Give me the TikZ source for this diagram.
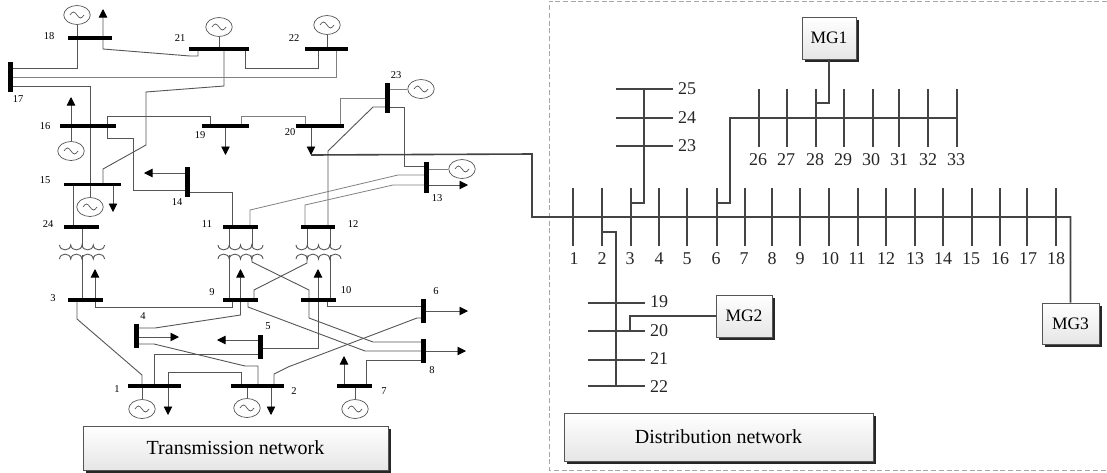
\documentclass[tikz,border=0pt]{standalone}
\usepackage{fontspec}
\setmainfont{Liberation Serif}
\usetikzlibrary{arrows.meta,shapes.geometric,shadows,backgrounds}
\definecolor{linegray}{HTML}{555555}
\definecolor{feedgray}{HTML}{444444}
\tikzset{
  hbus/.style={fill=black, inner sep=0, outer sep=0, minimum height=3.5},
  vbus/.style={fill=black, inner sep=0, outer sep=0, minimum width=5},
  gen/.style={ellipse, draw=linegray, line width=0.7, inner sep=0, minimum width=26.5, minimum height=19,
    path picture={\draw [draw=linegray, line width=0.7, rotate=#1] (path picture bounding box.center) ++(-7,0) sin ++(3.5,-3) cos ++(3.5,3) sin ++(3.5,3) cos ++(3.5,-3);}},
  gen/.default=0,
  tline/.style={draw=linegray, line width=0.9},
  tthin/.style={draw=gray, line width=0.8},
  load/.style={tline, -{Triangle[length=8.5pt,width=8.5pt,black]}},
  blab/.style={font=\fontsize{10.5}{12}\selectfont, text=black},
  dlab/.style={font=\fontsize{18}{20}\selectfont, text=black!85},
  dbar/.style={fill=feedgray, inner sep=0, outer sep=0, minimum width=1.8, minimum height=58},
  dhbar/.style={fill=feedgray, inner sep=0, outer sep=0, minimum height=1.8, minimum width=57},
  feeder/.style={draw=feedgray, line width=1.6},
  mgbox/.style={draw=linegray, line width=0.8, top color=white, bottom color=black!10,
    drop shadow={shadow xshift=3pt, shadow yshift=-3pt, fill=black!85, opacity=1}},
  frame/.style={draw=black!35, line width=1, dash pattern=on 5pt off 2.7pt},
  xfmr/.pic={
    \draw [tline] (-22.5,-7) .. controls +(0.5,6.5) and +(-0.5,6.5) .. ++(11.25,0) .. controls +(0.5,6.5) and +(-0.5,6.5) .. ++(11.25,0) .. controls +(0.5,6.5) and +(-0.5,6.5) .. ++(11.25,0) .. controls +(0.5,6.5) and +(-0.5,6.5) .. ++(11.25,0);
    \draw [tline] (-22.5,7) .. controls +(0.5,-6.5) and +(-0.5,-6.5) .. ++(11.25,0) .. controls +(0.5,-6.5) and +(-0.5,-6.5) .. ++(11.25,0) .. controls +(0.5,-6.5) and +(-0.5,-6.5) .. ++(11.25,0) .. controls +(0.5,-6.5) and +(-0.5,-6.5) .. ++(11.25,0);
    \coordinate (-tl) at (-11.5,-6);
    \coordinate (-tc) at (0,-6);
    \coordinate (-tr) at (11.5,-6);
    \coordinate (-bl) at (-11.5,3);
    \coordinate (-bc) at (0,3);
    \coordinate (-br) at (11.5,3);
  },
}
\begin{document}
\begin{tikzpicture}[x=1pt, y=-1pt]

    \useasboundingbox (0,0) rectangle (1107,472);
    \draw [frame] (1107,1) -- (549,1) -- (549,470) -- (1107,470);

    \node [hbus, minimum width=44] (b18) at (90,38) {};
    \node [hbus, minimum width=60] (b21) at (219,49) {};
    \node [hbus, minimum width=43] (b22) at (326.5,49) {};
    \node [vbus, minimum height=30] (b17) at (10.5,77) {};
    \node [hbus, minimum width=56] (b16) at (88,126) {};
    \node [hbus, minimum width=47] (b19) at (225.5,126) {};
    \node [hbus, minimum width=48] (b20) at (320,126) {};
    \node [vbus, minimum height=30] (b23) at (387,98) {};
    \node [hbus, minimum width=57, minimum height=3] (b15) at (92.5,184) {};
    \node [vbus, minimum height=30] (b14) at (187,182) {};
    \node [vbus, minimum height=31] (b13) at (426,177.5) {};
    \node [hbus, minimum width=35] (b24) at (81.5,227) {};
    \node [hbus, minimum width=35] (b11) at (240.5,227) {};
    \node [hbus, minimum width=34] (b12) at (318,227) {};
    \node [hbus, minimum width=35] (b3) at (85.5,300) {};
    \node [hbus, minimum width=35] (b9) at (240.5,300) {};
    \node [hbus, minimum width=35] (b10) at (318.5,300) {};
    \node [vbus, minimum height=24] (b4) at (136,336) {};
    \node [vbus, minimum height=24] (b5) at (260,347) {};
    \node [vbus, minimum height=24] (b6) at (423,311) {};
    \node [vbus, minimum height=24] (b8) at (423,351) {};
    \node [hbus, minimum width=53] (b1) at (154.5,386) {};
    \node [hbus, minimum width=53] (b2) at (257.5,386) {};
    \node [hbus, minimum width=35] (b7) at (354.5,386) {};

    \node [gen] (g18) at (77,15) {};
    \node [gen] (g21) at (219,27) {};
    \node [gen] (g22) at (327,25) {};
    \node [gen] (g16) at (71,151) {};
    \node [gen] (g15) at (90,207) {};
    \node [gen=90] (g23) at (421,89) {};
    \node [gen=90] (g13) at (462,169) {};
    \node [gen] (g1) at (142,409) {};
    \node [gen] (g2) at (247,408) {};
    \node [gen] (g7) at (355,409) {};

    \pic (x24) at (82,252) {xfmr};
    \pic (x11) at (240.5,252) {xfmr};
    \pic (x12) at (318.5,252) {xfmr};

    \coordinate (t18) at (103,9);
    \coordinate (t16) at (71,97);
    \coordinate (t19) at (225.5,155);
    \coordinate (t20) at (311,155);
    \coordinate (t15) at (113,212);
    \coordinate (t14) at (144,173);
    \coordinate (t13) at (468,185);
    \coordinate (t3) at (95,269);
    \coordinate (t9) at (240.5,269);
    \coordinate (t10) at (318,269);
    \coordinate (t4) at (179,337);
    \coordinate (t5) at (217,340);
    \coordinate (t6) at (468,311);
    \coordinate (t8) at (466,351);
    \coordinate (t7) at (344,356);
    \coordinate (t1) at (168,415);
    \coordinate (t2) at (271,415);

    \node [blab] (n18) at (49,36) {18};
    \node [blab] (n21) at (180,38) {21};
    \node [blab] (n22) at (294,38) {22};
    \node [blab] (n17) at (18,99) {17};
    \node [blab] (n16) at (45,126) {16};
    \node [blab] (n19) at (200,135) {19};
    \node [blab] (n20) at (290,132) {20};
    \node [blab] (n23) at (396,75) {23};
    \node [blab] (n15) at (45,180) {15};
    \node [blab] (n14) at (177,202) {14};
    \node [blab] (n13) at (437,198) {13};
    \node [blab] (n24) at (48,224) {24};
    \node [blab] (n11) at (207,224) {11};
    \node [blab] (n12) at (353,224) {12};
    \node [blab] (n3) at (53,298) {3};
    \node [blab] (n9) at (212,292) {9};
    \node [blab] (n10) at (346,290) {10};
    \node [blab] (n4) at (143,316) {4};
    \node [blab] (n5) at (268,326) {5};
    \node [blab] (n6) at (436,291) {6};
    \node [blab] (n8) at (432,370) {8};
    \node [blab] (n1) at (117,389) {1};
    \node [blab] (n2) at (294,391) {2};
    \node [blab] (n7) at (384,391) {7};

    \begin{scope}[on background layer]
    \draw [tline] (g18) -- (g18 |- 0,68) -- (b17 |- 0,68);
    \draw [tline] (g21) -- (g21 |- b21);
    \draw [tline] (g22) -- (g22 |- b22);
    \draw [load] (198,0 |- b21) -- (198,56) -- (190,56) -- (103,49) -- (t18);
    \draw [tline] (224,0 |- b21) -- (224,86) -- (146,92) -- (146,145) -- (103,169) -- (103,0 |- b15);
    \draw [tline] (245,0 |- b21) -- (245,68) -- (318,68) -- (318,0 |- b22);
    \draw [tthin] (b17 |- 0,77) -- (336,77) -- (336,0 |- b22);
    \draw [tline] (b17 |- 0,86) -- (90,86) -- (g15);
    \draw [load] (g16) -- (t16);
    \draw [tline] (107,0 |- b16) -- (107,116) -- (210,116) -- (210,0 |- b19);
    \draw [tline] (107,0 |- b16) -- (107,138) -- (133,138) -- (133,190) -- (b14 |- 0,190);
    \draw [load] (b14 |- t14) -- (t14);
    \draw [tline] (b14 |- 0,192) -- (232,192) -- (232,0 |- b11);
    \draw [tthin] (241,0 |- b19) -- (241,116) -- (305,116) -- (305,0 |- b20);
    \draw [load] (t19 |- b19) -- (t19);
    \draw [load] (t20 |- b20) -- (t20);
    \draw [tthin] (340,0 |- b20) -- (340,98) -- (b23 |- 0,98);
    \draw [tthin] (g23) -- (b23 |- g23);
    \draw [tline] (b23 |- 0,107) -- (373,107) -- (328,151) -- (328,0 |- b12);
    \draw [tline] (b23 |- 0,107) -- (404,107) -- (404,166) -- (b13 |- 0,166);
    \draw [tthin] (g13) -- (b13 |- g13);
    \draw [load] (b13 |- t13) -- (t13);
    \draw [tthin] (b13 |- 0,175) -- (398,175) -- (250,210) -- (250,0 |- b11);
    \draw [tthin] (b13 |- 0,185) -- (393,185) -- (305,205) -- (305,0 |- b12);
    \draw [tline] (73,0 |- b15) -- (73,0 |- b24);
    \draw [load] (t15 |- b15) -- (t15);
    \draw [tline] (82,0 |- b24) -- (x24-tc);
    \draw [tline] (x24-bc) -- (82,0 |- b3);
    \draw [tline] (229,0 |- b11) -- (x11-tl);
    \draw [tline] (252,0 |- b11) -- (x11-tr);
    \draw [tline] (307,0 |- b12) -- (x12-tl);
    \draw [tline] (330,0 |- b12) -- (x12-tr);
    \draw [tline] (x11-bl) -- (x11-bl |- b9);
    \draw [load] (232,0 |- b9) -- (232,307) -- (95,307) -- (t3);
    \draw [load] (b4 |- 0,328) -- (155,328) -- (240.5,315) -- (t9);
    \draw [load] (b4 |- t4) -- (t4);
    \draw [tline] (b4 |- 0,344) -- (154,344) -- (245,366) -- (258,366) -- (258,0 |- b2);
    \draw [tline] (77,0 |- b3) -- (77,319) -- (142,375) -- (142,0 |- b1);
    \draw [tline] (g1) -- (g1 |- b1);
    \draw [load] (241,0 |- b2) -- (241,372) -- (168,372) -- (t1);
    \draw [tline] (154,0 |- b1) -- (154,354) -- (b5 |- 0,354);
    \draw [load] (b5 |- t5) -- (t5);
    \draw [load] (b5 |- 0,348) -- (318,348) -- (t10);
    \draw [tline] (327,0 |- b10) -- (327,306) -- (b6 |- 0,306);
    \draw [load] (b6 |- t6) -- (t6);
    \draw [tline] (b6 |- 0,318) -- (417,318) -- (288,367) -- (274,374) -- (274,0 |- b2);
    \draw [tline] (309,0 |- b10) -- (309,318) -- (373,342) -- (b8 |- 0,342);
    \draw [tline] (x11-br) -- (252,262) -- (309,290) -- (309,0 |- b10);
    \draw [tline] (x12-bl) -- (307,263) -- (254,290) -- (254,0 |- b9);
    \draw [tline] (x12-br) -- (x12-br |- b10);
    \draw [tline] (248,0 |- b9) -- (248,307) -- (365,351) -- (b8 |- t8);
    \draw [load] (b8 |- t8) -- (t8);
    \draw [tline] (b8 |- 0,360) -- (366,360) -- (366,0 |- b7);
    \draw [load] (t7 |- b7) -- (t7);
    \draw [tline] (g2) -- (g2 |- b2);
    \draw [load] (t2 |- b2) -- (t2);
    \draw [tline] (g7) -- (g7 |- b7);
    \end{scope}

    \node [dbar] (d1) at (573,217) {};    \node [dlab] (l1) at (574,259) {1};
    \node [dbar] (d2) at (602,217) {};    \node [dlab] (l2) at (602,259) {2};
    \node [dbar] (d3) at (631,217) {};    \node [dlab] (l3) at (630,259) {3};
    \node [dbar] (d4) at (659,217) {};    \node [dlab] (l4) at (659,259) {4};
    \node [dbar] (d5) at (687,217) {};    \node [dlab] (l5) at (687,259) {5};
    \node [dbar] (d6) at (717,217) {};    \node [dlab] (l6) at (716,259) {6};
    \node [dbar] (d7) at (745,217) {};    \node [dlab] (l7) at (744,259) {7};
    \node [dbar] (d8) at (772,217) {};    \node [dlab] (l8) at (772,259) {8};
    \node [dbar] (d9) at (800,217) {};    \node [dlab] (l9) at (800,259) {9};
    \node [dbar] (d10) at (829,217) {};   \node [dlab] (l10) at (830,259) {10};
    \node [dbar] (d11) at (858,217) {};   \node [dlab] (l11) at (857,259) {11};
    \node [dbar] (d12) at (886,217) {};   \node [dlab] (l12) at (886,259) {12};
    \node [dbar] (d13) at (915,217) {};   \node [dlab] (l13) at (915,259) {13};
    \node [dbar] (d14) at (943,217) {};   \node [dlab] (l14) at (943,259) {14};
    \node [dbar] (d15) at (972,217) {};   \node [dlab] (l15) at (971,259) {15};
    \node [dbar] (d16) at (1000,217) {};  \node [dlab] (l16) at (1000,259) {16};
    \node [dbar] (d17) at (1027,217) {};  \node [dlab] (l17) at (1028,259) {17};
    \node [dbar] (d18) at (1056,217) {};  \node [dlab] (l18) at (1056,259) {18};

    \node [dbar] (d26) at (759,118) {};   \node [dlab] (l26) at (758,160) {26};
    \node [dbar] (d27) at (787,118) {};   \node [dlab] (l27) at (786,160) {27};
    \node [dbar] (d28) at (816,118) {};   \node [dlab] (l28) at (815,160) {28};
    \node [dbar] (d29) at (844,118) {};   \node [dlab] (l29) at (843,160) {29};
    \node [dbar] (d30) at (873,118) {};   \node [dlab] (l30) at (871,160) {30};
    \node [dbar] (d31) at (899,118) {};   \node [dlab] (l31) at (899,160) {31};
    \node [dbar] (d32) at (928,118) {};   \node [dlab] (l32) at (928,160) {32};
    \node [dbar] (d33) at (957,118) {};   \node [dlab] (l33) at (956,160) {33};

    \node [dhbar] (d25) at (644,89) {};   \node [dlab] (l25) at (687,89) {25};
    \node [dhbar] (d24) at (644,118) {};  \node [dlab] (l24) at (687,118) {24};
    \node [dhbar] (d23) at (644,146) {};  \node [dlab] (l23) at (687,146) {23};

    \node [dhbar] (d19) at (616,303) {};  \node [dlab] (l19) at (659,302) {19};
    \node [dhbar] (d20) at (616,331) {};  \node [dlab] (l20) at (659,331) {20};
    \node [dhbar] (d21) at (616,360) {};  \node [dlab] (l21) at (659,359) {21};
    \node [dhbar] (d22) at (616,386) {};  \node [dlab] (l22) at (659,387) {22};

    \node [mgbox, minimum width=54, minimum height=42, font=\fontsize{17.5}{20}\selectfont] (mg1) at (829,38) {MG1};
    \node [mgbox, minimum width=56, minimum height=42, font=\fontsize{17.5}{20}\selectfont] (mg2) at (744,316) {MG2};
    \node [mgbox, minimum width=57, minimum height=41, font=\fontsize{17.5}{20}\selectfont] (mg3) at (1070.5,323.5) {MG3};
    \node [mgbox, minimum width=305, minimum height=44, font=\fontsize{20}{24}\selectfont] (trans) at (235.5,448) {Transmission network};
    \node [mgbox, minimum width=309, minimum height=48, font=\fontsize{20}{24}\selectfont] (dist) at (718.5,437) {Distribution network};

    \draw [feeder] (t20) -- (532,154) -- (532,217) -- (mg3.north |- d18) -- (mg3.north);
    \draw [feeder] (d3 |- 0,203) -- (d25 |- 0,203) -- (d25.center);
    \draw [feeder] (d6 |- 0,203) -- (730,203) -- (730,118) -- (d33.center);
    \draw [feeder] (mg1.south) -- (mg1.south |- 0,103) -- (d28 |- 0,103);
    \draw [feeder] (d2 |- 0,232) -- (d22 |- 0,232) -- (d22.center);
    \draw [feeder] (mg2.west) -- (630,0 |- mg2) -- (630,0 |- d20);

\end{tikzpicture}
\end{document}
